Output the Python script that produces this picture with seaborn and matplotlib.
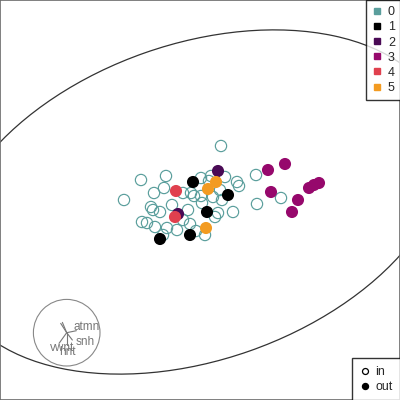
import matplotlib
matplotlib.use("Agg")
import matplotlib.pyplot as plt
from matplotlib.patches import Ellipse, Circle
from matplotlib.lines import Line2D
import seaborn as sns
import pandas as pd
import numpy as np

sns.set_style("white")
plt.rcParams['font.family'] = ['Liberation Sans', 'DejaVu Sans']

# ---- data (pixel-like score coordinates, y up) ----
in_x = [221,141,166,124,201,211,225,237,239,256,257,281,154,164,183,191,194,201,213,220,
        222,202,151,153,160,188,233,218,215,142,147,155,167,177,183,190,205,163,209,172,196]
in_y = [254,220,224,200,222,224,223,218,214,225,196,202,207,212,207,207,204,204,203,210,
        200,197,193,190,188,190,188,187,183,178,177,173,172,170,180,176,165,165,219,195,169]

out_x = [193,228,207,190,160, 218,178, 268,285,271,298,292,309,314,319, 176,175, 216,208,206]
out_y = [218,205,188,165,161, 229,186, 230,236,208,200,188,212,215,217, 209,183, 218,211,172]
out_cls = ['1','1','1','1','1', '2','2', '3','3','3','3','3','3','3','3', '4','4', '5','5','5']

classes = ['0','1','2','3','4','5']
class_colors = ['#5a9e9c', '#000000', '#4a0a55', '#96086c', '#e0404e', '#f39b21']
status_labels = ['in', 'out']

# class ellipse (centre, axes, angle)
ell_cx, ell_cy, ell_w, ell_h, ell_ang = 197, 198, 520, 316, 19.3

# correlation circle of variables
var_names = ['atmn', 'snh', 'vwnt', 'hnt', '', '']
var_x = [0.29, 0.17, -0.23, 0.00, -0.18, -0.13]
var_y = [0.06, -0.22, -0.32, -0.37, 0.28, 0.31]
lab_dx = [20.0, 18.3, -5.0, 0.5, 0, 0]
lab_dy = [5.4, -9.0, -15.6, -19.0, 0, 0]
cc_x, cc_y, cc_r = 66.7, 67.3, 33.3

# ---- figure ----
fig = plt.figure(figsize=(4, 4), dpi=100)
ax = fig.add_axes([0, 0, 1, 1])
ax.set_xlim(0, 400)
ax.set_ylim(0, 400)
ax.set_xticks([]); ax.set_yticks([])
for s in ax.spines.values():
    s.set_color('#6a6a6a'); s.set_linewidth(1.2)

ax.add_patch(Ellipse((ell_cx, ell_cy), ell_w, ell_h, angle=ell_ang,
                     fill=False, ec='#333333', lw=0.9, zorder=1))

din = pd.DataFrame({'x': in_x, 'y': in_y})
sns.scatterplot(data=din, x='x', y='y', ax=ax, s=66, marker='o',
                facecolor='none', edgecolor=class_colors[0], linewidth=0.85,
                legend=False, zorder=2)

dout = pd.DataFrame({'x': out_x, 'y': out_y, 'cls': out_cls})
pal = dict(zip(classes, class_colors))
sns.scatterplot(data=dout, x='x', y='y', hue='cls', palette=pal, ax=ax, s=76,
                marker='o', linewidth=0, legend=False, zorder=3)
ax.set_xlabel(''); ax.set_ylabel('')

# correlation circle
ax.add_patch(Circle((cc_x, cc_y), cc_r, fill=False, ec='#888888', lw=0.8, zorder=4))
for vx, vy, nm, dx, dy in zip(var_x, var_y, var_names, lab_dx, lab_dy):
    ax.plot([cc_x, cc_x + vx * cc_r], [cc_y, cc_y + vy * cc_r], color='#777777', lw=0.8, zorder=4)
    if nm:
        ax.text(cc_x + dx, cc_y + dy, nm, color='#777777', fontsize=8.5,
                ha='center', va='center', zorder=5)

# legends
h1 = [Line2D([], [], ls='', marker='s', markersize=4, color=c, mec=c) for c in class_colors]
leg1 = ax.legend(h1, classes, loc='upper right', bbox_to_anchor=(1.003, 1.0), borderaxespad=0,
                 frameon=True, fancybox=False, edgecolor='black', fontsize=9,
                 handlelength=0.7, handletextpad=0.55, borderpad=0.5, labelspacing=0.25)
leg1.get_frame().set_linewidth(1.0)
ax.add_artist(leg1)
h2 = [Line2D([], [], ls='', marker='o', markersize=4.3, mfc='none', mec='black', mew=0.9),
      Line2D([], [], ls='', marker='o', markersize=4.3, color='black')]
leg2 = ax.legend(h2, status_labels, loc='lower right', bbox_to_anchor=(1.003, -0.004), borderaxespad=0,
                 frameon=True, fancybox=False, edgecolor='black', fontsize=9,
                 handlelength=0.7, handletextpad=0.5, borderpad=0.68, labelspacing=0.22)
leg2.get_frame().set_linewidth(1.0)

fig.savefig('out.png', dpi=100)
